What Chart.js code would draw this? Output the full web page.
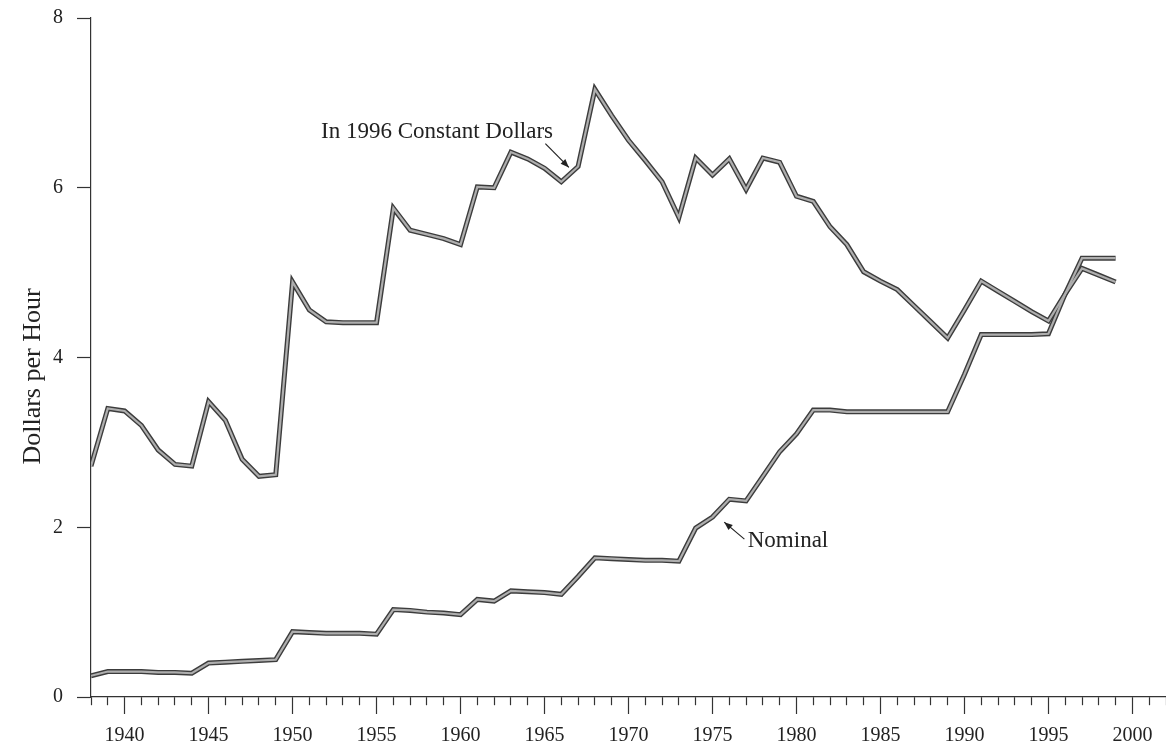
<!DOCTYPE html>
<html>
<head>
<meta charset="utf-8">
<script src="https://cdn.jsdelivr.net/npm/chart.js@4/dist/chart.umd.min.js"></script>
<style>
  html, body { margin: 0; padding: 0; background: #fff; }
  #wrap { width: 1166px; height: 749px; position: relative; }
</style>
</head>
<body>
<div id="wrap"><canvas id="wageChart"></canvas></div>
<script>
// minimum wage, dollars per hour
var years = [];
for (var yr = 1938; yr <= 1999; yr++) years.push(yr);

var nominal = [
  0.25, 0.30, 0.30, 0.30, 0.29, 0.29, 0.28, 0.40, 0.41, 0.42,   // 1938-47
  0.43, 0.44, 0.77, 0.76, 0.75, 0.75, 0.75, 0.74, 1.03, 1.02,   // 1948-57
  1.00, 0.99, 0.97, 1.15, 1.13, 1.25, 1.24, 1.23, 1.21, 1.42,   // 1958-67
  1.64, 1.63, 1.62, 1.61, 1.61, 1.60, 1.99, 2.12, 2.33, 2.31,   // 1968-77
  2.60, 2.89, 3.10, 3.38, 3.38, 3.36, 3.36, 3.36, 3.36, 3.36,   // 1978-87
  3.36, 3.36, 3.80, 4.27, 4.27, 4.27, 4.27, 4.28, 4.75, 5.17,   // 1988-97
  5.17, 5.17                                                    // 1998-99
];

var constant1996 = [
  2.72, 3.40, 3.37, 3.20, 2.91, 2.74, 2.72, 3.48, 3.26, 2.80,   // 1938-47
  2.60, 2.62, 4.89, 4.56, 4.42, 4.41, 4.41, 4.41, 5.76, 5.50,   // 1948-57
  5.45, 5.40, 5.33, 6.01, 6.00, 6.42, 6.34, 6.23, 6.07, 6.25,   // 1958-67
  7.16, 6.85, 6.56, 6.32, 6.07, 5.65, 6.35, 6.15, 6.34, 5.98,   // 1968-77
  6.35, 6.30, 5.90, 5.84, 5.54, 5.33, 5.01, 4.90, 4.80, 4.61,   // 1978-87
  4.42, 4.23, 4.56, 4.90, 4.78, 4.66, 4.54, 4.43, 4.75, 5.05,   // 1988-97
  4.97, 4.89                                                    // 1998-99
];

var yTicks = [0, 2, 4, 6, 8];

// labels with arrows, in data units (year, dollars)
var notes = [
  { text: 'In 1996 Constant Dollars', x: 1951.7, y: 6.59, from: [1965.05, 6.52], to: [1966.45, 6.24] },
  { text: 'Nominal', x: 1977.1, y: 1.77, from: [1976.9, 1.86], to: [1975.7, 2.06] }
];

var SERIF = '"Liberation Serif", "DejaVu Serif", serif';

function pts(vals) {
  return years.map(function (y, i) { return { x: y, y: vals[i] }; });
}

// each series is a grey line with a dark casing: casing drawn first, core on top
function casedLine(label, vals) {
  return [
    { label: label, data: pts(vals), borderColor: '#3c3c3c', borderWidth: 5,
      pointRadius: 0, tension: 0, borderJoinStyle: 'miter', order: 2 },
    { label: label, data: pts(vals), borderColor: '#aeaeae', borderWidth: 2.2,
      pointRadius: 0, tension: 0, borderJoinStyle: 'miter', order: 1 }
  ];
}

var notesPlugin = {
  id: 'notes',
  afterDraw: function (chart) {
    var c = chart.ctx, xs = chart.scales.x, ys = chart.scales.y;
    c.save();
    c.fillStyle = '#222';
    c.strokeStyle = '#222';
    c.font = '23px ' + SERIF;
    c.textBaseline = 'alphabetic';
    c.textAlign = 'left';
    notes.forEach(function (n) {
      c.fillText(n.text, xs.getPixelForValue(n.x), ys.getPixelForValue(n.y));
      var x1 = xs.getPixelForValue(n.from[0]), y1 = ys.getPixelForValue(n.from[1]);
      var x2 = xs.getPixelForValue(n.to[0]), y2 = ys.getPixelForValue(n.to[1]);
      c.lineWidth = 1.2;
      c.beginPath(); c.moveTo(x1, y1); c.lineTo(x2, y2); c.stroke();
      var a = Math.atan2(y2 - y1, x2 - x1), L = 9, w = 0.38;
      c.beginPath();
      c.moveTo(x2, y2);
      c.lineTo(x2 - L * Math.cos(a - w), y2 - L * Math.sin(a - w));
      c.lineTo(x2 - L * Math.cos(a + w), y2 - L * Math.sin(a + w));
      c.closePath(); c.fill();
    });
    // axis title
    c.font = '26px ' + SERIF;
    c.textAlign = 'center';
    c.translate(39.5, (ys.top + ys.bottom) / 2 + 19);
    c.rotate(-Math.PI / 2);
    c.fillText('Dollars per Hour', 0, 0);
    c.restore();
  }
};

new Chart(document.getElementById('wageChart'), {
  type: 'line',
  data: {
    datasets: [].concat(casedLine('Nominal', nominal), casedLine('In 1996 Constant Dollars', constant1996))
  },
  plugins: [notesPlugin],
  options: {
    responsive: true,
    maintainAspectRatio: false,
    animation: false,
    layout: { padding: { top: 18, right: 0, left: 0, bottom: 0 } },
    plugins: { legend: { display: false }, tooltip: { enabled: false } },
    scales: {
      x: {
        type: 'linear',
        min: 1938,
        max: 2002,
        afterFit: function (s) { s.height = 52; s.paddingLeft = 0; s.paddingRight = 0; },
        ticks: {
          stepSize: 1,
          maxTicksLimit: 100,
          autoSkip: false,
          maxRotation: 0,
          padding: 10,
          color: '#222',
          font: { family: SERIF, size: 20 },
          callback: function (v) { return v % 5 === 0 ? String(v) : ''; }
        },
        grid: {
          drawOnChartArea: false,
          tickLength: 17,
          tickWidth: 1.2,
          tickColor: '#333',
          tickBorderDash: function (c) { return (c.tick && c.tick.value % 5 === 0) ? [] : [8, 40]; }
        },
        border: { color: '#333', width: 1.2 }
      },
      y: {
        min: 0,
        max: 8,
        afterFit: function (s) { s.width = 91; s.paddingTop = 0; s.paddingBottom = 0; },
        afterBuildTicks: function (s) { s.ticks = yTicks.map(function (v) { return { value: v }; }); },
        ticks: {
          padding: 14,
          color: '#222',
          font: { family: SERIF, size: 20 }
        },
        grid: { drawOnChartArea: false, tickLength: 14, tickWidth: 1.2, tickColor: '#333' },
        border: { color: '#333', width: 1.2 }
      }
    }
  }
});
</script>
</body>
</html>
